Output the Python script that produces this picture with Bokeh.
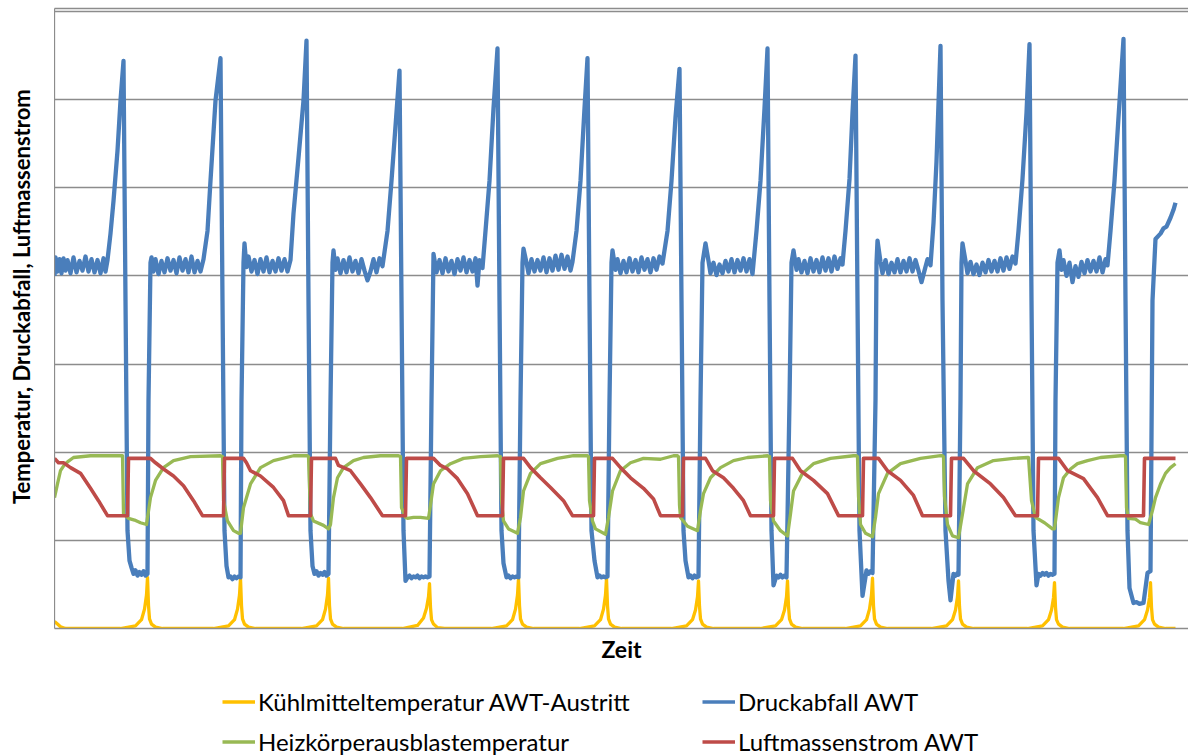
from math import pi
from bokeh.plotting import figure
from bokeh.models import Range1d, Legend, LegendItem, Label, FixedTicker, LinearAxis
from bokeh.layouts import column, row
from bokeh.embed import file_html
from bokeh.resources import INLINE

# ---------------- data (time in arbitrary units, values in chart units) ----------------
druck_t = (
    [0, 1, 3, 5, 7, 9, 11, 13, 16, 19, 22, 25, 28, 31, 34, 37, 40, 43, 46, 49, 51, 53, 56, 59, 63, 66, 69,
     71, 73, 75, 77, 79, 81, 83, 85, 87, 89, 91, 93, 94, 96]
    + [97, 99, 101, 104, 107, 110, 113, 116, 119, 122, 125, 128, 131, 134, 137, 140, 143, 146, 149, 153, 156, 161, 166,
       168, 170, 172, 174, 176, 178, 180, 182, 184, 186, 187, 189, 190]
    + [192, 194, 197, 200, 203, 206, 209, 212, 215, 218, 221, 224, 227, 230, 233, 236, 239, 244, 249, 252,
       254, 256, 258, 260, 262, 264, 266, 268, 270, 272, 274, 276, 278, 279]
    + [281, 283, 286, 289, 292, 295, 298, 301, 304, 307, 310, 313, 316, 319, 322, 325, 328, 333, 337, 341, 345,
       347, 349, 351, 353, 355, 357, 359, 361, 363, 365, 367, 369, 371, 373, 375, 377, 379]
    + [382, 385, 388, 391, 394, 397, 400, 403, 406, 409, 412, 415, 418, 421, 423, 425, 428, 431, 435, 439, 443,
       445, 447, 449, 452, 454, 456, 458, 460, 462, 464, 466, 468, 469]
    + [472, 474, 477, 480, 483, 486, 489, 492, 495, 498, 501, 504, 507, 510, 513, 516, 518, 522, 526, 530, 533,
       535, 537, 540, 543, 545, 547, 549, 551, 553, 555, 557, 558]
    + [561, 563, 566, 569, 572, 575, 578, 581, 584, 587, 590, 593, 596, 599, 602, 605, 608, 613, 617, 621, 625,
       627, 629, 631, 634, 636, 638, 640, 642, 644, 646, 648, 651]
    + [654, 656, 659, 662, 665, 668, 671, 674, 677, 680, 683, 686, 689, 692, 695, 698, 702, 706, 710, 713,
       715, 717, 719, 722, 724, 726, 728, 730, 732, 735, 737, 739]
    + [742, 744, 747, 750, 753, 756, 759, 762, 765, 768, 771, 774, 777, 780, 783, 786, 788, 791, 795, 798, 801,
       803, 805, 808, 812, 814, 816, 818, 821, 822, 823]
    + [826, 828, 831, 834, 837, 840, 843, 846, 849, 852, 855, 858, 861, 864, 867, 870, 873, 876, 879, 882, 886,
       888, 891, 894, 896, 899, 901, 903, 904, 906, 907, 908]
    + [911, 913, 916, 919, 922, 925, 928, 931, 934, 937, 940, 943, 946, 949, 952, 955, 958, 961, 964, 968, 972, 975,
       977, 979, 982, 984, 986, 988, 990, 992, 994, 996, 998, 1000, 1001, 1003, 1005]
    + [1007, 1009, 1012, 1015, 1018, 1021, 1024, 1027, 1030, 1033, 1036, 1039, 1042, 1045, 1048, 1051, 1053,
       1056, 1060, 1064, 1069, 1071, 1073, 1075, 1079, 1082, 1085, 1089, 1093, 1096,
       1098, 1101, 1106, 1109, 1112, 1116, 1119, 1121]
)
druck_v = (
    [40.0, 42.1, 40.5, 41.9, 40.3, 42.0, 40.6, 41.8, 40.3, 42.1, 40.4, 41.7, 40.6, 42.2, 40.5, 41.9, 40.4, 41.8, 40.3,
     42.0, 40.5, 41.8, 44.8, 48.5, 54.2, 59.9, 64.4, 37.2, 11.1, 7.7, 6.9, 6.2, 6.6, 6.0, 6.4, 6.1, 6.5, 6.0, 6.2,
     25.9, 41.5]
    + [42.1, 40.5, 41.9, 40.2, 41.7, 40.4, 42.0, 40.6, 41.8, 40.3, 42.1, 40.6, 41.9, 40.4, 42.2, 40.4, 41.7, 40.5,
       41.9, 45.1, 50.8, 59.9, 64.7, 37.2, 11.1, 7.1, 5.8, 5.9, 5.6, 5.9, 5.7, 5.9, 5.8, 25.9, 41.5, 43.7]
    + [41.0, 42.2, 40.5, 41.8, 40.2, 41.9, 40.5, 42.1, 40.4, 41.7, 40.5, 42.0, 40.6, 41.9, 40.5, 41.8, 47.1, 53.4,
       59.9, 66.7, 37.2, 11.1, 7.1, 6.2, 6.5, 6.0, 6.3, 6.1, 6.4, 6.0, 6.2, 25.9, 41.5, 42.9]
    + [40.7, 42.0, 40.3, 41.8, 40.4, 42.1, 40.5, 41.7, 40.3, 41.9, 40.6, 39.5, 40.5, 41.9, 40.4, 42.0, 41.1, 45.1,
       50.8, 57.0, 63.3, 37.2, 11.1, 5.4, 5.8, 6.0, 5.7, 5.9, 5.8, 6.0, 5.7, 5.9, 5.8, 5.9, 5.8, 5.9, 25.9, 42.5]
    + [40.4, 41.8, 40.3, 42.0, 40.5, 41.7, 40.2, 41.9, 40.6, 42.1, 40.4, 41.8, 40.5, 42.0, 38.9, 41.8, 40.9, 45.1,
       50.8, 59.0, 65.8, 37.2, 11.1, 7.4, 5.8, 6.0, 5.7, 5.9, 5.8, 5.9, 5.8, 25.9, 41.5, 43.1]
    + [41.5, 40.3, 41.9, 40.5, 41.8, 40.6, 42.1, 40.4, 42.0, 40.6, 42.3, 40.7, 42.4, 40.8, 42.2, 40.6, 41.6, 45.1,
       50.8, 59.0, 64.7, 37.2, 11.1, 7.7, 5.8, 6.0, 5.8, 5.9, 5.8, 5.9, 25.9, 41.5, 42.9]
    + [40.7, 41.9, 40.3, 41.7, 40.4, 42.0, 40.5, 41.8, 40.4, 42.1, 40.7, 41.9, 40.4, 42.0, 40.7, 42.2, 41.4, 45.1,
       50.8, 58.0, 63.5, 37.2, 11.1, 7.7, 5.8, 6.0, 5.7, 6.0, 5.8, 5.9, 25.9, 41.5, 43.7]
    + [41.7, 40.3, 41.5, 40.1, 41.3, 40.3, 41.7, 40.5, 41.9, 40.4, 41.8, 40.6, 42.0, 40.5, 41.9, 40.2, 45.1, 50.8,
       59.0, 65.8, 37.2, 11.1, 4.9, 6.0, 5.8, 6.1, 5.8, 6.0, 5.8, 25.9, 41.5, 42.9]
    + [40.7, 41.9, 40.4, 41.7, 40.3, 42.0, 40.5, 41.8, 40.4, 42.1, 40.6, 42.0, 40.5, 42.2, 40.8, 42.0, 41.3, 45.1,
       51.0, 58.5, 65.0, 37.2, 11.1, 3.7, 6.6, 6.2, 6.5, 6.3, 25.9, 41.5, 44.0]
    + [41.6, 40.3, 41.8, 40.2, 41.5, 40.4, 41.9, 40.4, 41.7, 40.5, 42.0, 40.5, 41.8, 40.6, 39.3, 40.6, 41.9, 41.2,
       46.0, 53.0, 66.1, 37.2, 11.1, 5.4, 3.2, 6.2, 6.0, 6.3, 6.1, 25.9, 41.5, 43.7]
    + [41.7, 40.3, 41.6, 40.2, 41.3, 40.1, 41.5, 40.4, 41.8, 40.5, 41.7, 40.5, 42.0, 40.6, 42.1, 40.8, 42.2, 41.4,
       45.1, 51.0, 58.5, 66.3, 37.2, 11.1, 4.9, 6.2, 6.0, 6.3, 6.1, 6.3, 6.0, 6.2, 6.1, 6.2, 25.9, 41.5, 42.9]
    + [40.7, 41.8, 40.0, 41.5, 39.3, 41.1, 39.9, 41.6, 40.3, 41.8, 40.5, 41.7, 40.5, 42.1, 40.4, 41.9, 41.2,
       45.1, 50.8, 58.0, 66.9, 37.2, 11.1, 4.6, 2.9, 3.0, 2.8, 2.9, 6.3, 6.5,
       37.2, 44.2, 44.8, 45.4, 45.6, 46.6, 47.5, 48.3]
)

kuehl_t = (
    [0, 3, 6, 11]
    + [66, 81, 87, 90, 92, 93, 94, 95, 97, 101, 108]
    + [159, 174, 180, 183, 185, 186, 187, 188, 190, 194, 201]
    + [247, 262, 268, 271, 273, 274, 275, 276, 278, 282, 289]
    + [348, 363, 369, 372, 374, 375, 376, 377, 379, 383, 390]
    + [437, 452, 458, 461, 463, 464, 465, 466, 468, 472, 479]
    + [525, 540, 546, 549, 551, 552, 553, 554, 556, 560, 567]
    + [617, 632, 638, 641, 643, 644, 645, 646, 648, 652, 659]
    + [706, 721, 727, 730, 732, 733, 734, 735, 737, 741, 748]
    + [791, 806, 812, 815, 817, 818, 819, 820, 822, 826, 833]
    + [877, 892, 898, 901, 903, 904, 905, 906, 908, 912, 919]
    + [973, 988, 994, 997, 999, 1000, 1001, 1002, 1004, 1008, 1015]
    + [1069, 1084, 1090, 1093, 1095, 1096, 1097, 1098, 1100, 1104, 1111]
    + [1121]
)
kuehl_v = (
    [0.8, 0.5, 0.2, 0.0]
    + [0.0, 0.3, 1.0, 2.2, 3.8, 5.8, 2.6, 1.1, 0.5, 0.15, 0.0]
    + [0.0, 0.3, 1.0, 2.2, 3.8, 5.7, 2.6, 1.1, 0.5, 0.15, 0.0]
    + [0.0, 0.3, 1.0, 2.2, 3.8, 5.7, 2.6, 1.1, 0.5, 0.15, 0.0]
    + [0.0, 0.35, 1.2, 2.3, 3.6, 5.1, 2.4, 1.0, 0.5, 0.1, 0.0]
    + [0.0, 0.3, 1.0, 2.2, 3.8, 5.7, 2.6, 1.1, 0.5, 0.15, 0.0]
    + [0.0, 0.3, 1.0, 2.2, 3.8, 5.7, 2.6, 1.1, 0.5, 0.15, 0.0]
    + [0.0, 0.3, 1.0, 2.1, 3.6, 5.4, 2.5, 1.1, 0.5, 0.15, 0.0]
    + [0.0, 0.3, 1.0, 2.1, 3.6, 5.4, 2.5, 1.1, 0.5, 0.15, 0.0]
    + [0.0, 0.3, 1.0, 2.2, 3.8, 5.7, 2.6, 1.1, 0.5, 0.15, 0.0]
    + [0.0, 0.3, 1.0, 2.1, 3.6, 5.4, 2.5, 1.1, 0.5, 0.15, 0.0]
    + [0.0, 0.3, 1.0, 2.1, 3.5, 5.2, 2.4, 1.0, 0.5, 0.15, 0.0]
    + [0.0, 0.3, 1.0, 2.1, 3.5, 5.2, 2.4, 1.0, 0.5, 0.15, 0.0]
    + [0.0]
)

heiz_t = (
    [0, 3, 6, 10, 13, 19, 36, 68]
    + [69, 74, 80, 86, 92, 96, 101, 109, 119, 136, 166]
    + [168, 169, 173, 179, 184, 186, 189, 196, 206, 219, 239, 253]
    + [254, 256, 259, 269, 274, 276, 279, 283, 289, 299, 309, 326, 344]
    + [346, 347, 351, 353, 359, 366, 374, 376, 379, 386, 396, 409, 426, 443]
    + [446, 447, 449, 454, 463, 466, 469, 476, 486, 503, 519, 533]
    + [534, 535, 538, 541, 551, 554, 558, 566, 576, 589, 606, 619, 623]
    + [624, 625, 626, 633, 643, 646, 649, 656, 666, 679, 693, 713]
    + [715, 716, 719, 726, 733, 736, 739, 748, 759, 776, 799, 802]
    + [803, 804, 806, 811, 818, 821, 824, 833, 846, 866, 886, 888]
    + [889, 890, 893, 898, 904, 908, 913, 923, 939, 959, 973]
    + [974, 977, 981, 990, 998, 1000, 1004, 1009, 1016, 1023, 1033, 1046, 1066, 1070]
    + [1071, 1072, 1074, 1081, 1086, 1094, 1098, 1101, 1106, 1111, 1116, 1121]
)
heiz_v = (
    [14.85, 16.4, 17.9, 18.6, 18.9, 19.4, 19.6, 19.6]
    + [13.0, 12.5, 12.3, 12.0, 11.8, 14.85, 16.8, 18.25, 19.05, 19.5, 19.6]
    + [19.5, 14.5, 12.2, 11.1, 10.8, 10.8, 13.7, 16.4, 18.25, 19.05, 19.6, 19.6]
    + [19.5, 13.0, 12.2, 11.7, 11.3, 11.8, 14.85, 17.1, 18.25, 19.05, 19.4, 19.6, 19.6]
    + [19.5, 13.7, 12.6, 12.5, 12.6, 12.6, 12.5, 14.0, 16.4, 17.9, 18.7, 19.3, 19.5, 19.6]
    + [19.5, 14.5, 12.2, 11.3, 10.8, 12.6, 15.6, 17.6, 18.7, 19.3, 19.6, 19.6]
    + [19.5, 14.5, 12.2, 11.3, 10.7, 12.6, 15.6, 17.9, 18.8, 19.3, 19.2, 19.6, 19.6]
    + [19.5, 14.0, 12.6, 11.6, 11.1, 13.4, 15.3, 17.1, 18.25, 19.05, 19.4, 19.6]
    + [19.5, 14.5, 12.2, 11.1, 10.5, 13.0, 15.6, 17.6, 18.7, 19.3, 19.6, 19.6]
    + [19.5, 15.0, 11.8, 10.8, 10.4, 12.6, 15.3, 17.6, 18.7, 19.3, 19.6, 19.6]
    + [19.5, 15.0, 11.8, 10.5, 10.3, 13.0, 16.4, 18.25, 19.05, 19.3, 19.4]
    + [19.4, 14.5, 12.6, 12.0, 11.3, 11.3, 14.85, 17.1, 18.1, 18.7, 19.05, 19.4, 19.6, 19.6]
    + [19.5, 13.7, 12.5, 12.4, 12.0, 11.8, 13.4, 14.85, 16.4, 17.6, 18.25, 18.7]
)

luft_t = (
    [0, 4, 9, 16, 26, 36, 44, 53, 73]
    + [74, 96, 101, 109, 119, 129, 139, 148, 169]
    + [170, 189, 192, 196, 206, 219, 229, 234, 256]
    + [257, 281, 284, 296, 306, 316, 328, 351]
    + [352, 379, 386, 393, 403, 413, 423, 448]
    + [449, 469, 476, 486, 496, 509, 518, 539]
    + [540, 558, 566, 576, 589, 599, 606, 628]
    + [629, 651, 658, 669, 679, 689, 696, 719]
    + [720, 738, 746, 759, 773, 784, 808]
    + [809, 824, 833, 846, 859, 868, 896]
    + [897, 909, 919, 936, 949, 961, 983]
    + [984, 1004, 1013, 1029, 1043, 1053, 1089]
    + [1090, 1121]
)
luft_v = (
    [19.3, 18.8, 18.8, 18.25, 17.6, 15.9, 14.5, 12.8, 12.8]
    + [19.3, 19.3, 18.8, 18.1, 17.3, 16.2, 14.5, 12.8, 12.8]
    + [19.3, 19.3, 18.8, 17.9, 17.3, 16.0, 14.5, 12.8, 12.8]
    + [19.3, 19.3, 18.5, 17.9, 16.4, 14.85, 12.8, 12.8]
    + [19.3, 19.3, 18.5, 18.1, 17.0, 15.3, 12.8, 12.8]
    + [19.3, 19.3, 18.25, 17.1, 16.0, 14.5, 12.8, 12.8]
    + [19.3, 19.3, 18.25, 17.1, 15.9, 14.7, 12.8, 12.8]
    + [19.3, 19.3, 17.9, 17.1, 15.9, 14.5, 12.8, 12.8]
    + [19.3, 19.3, 17.9, 16.8, 15.3, 12.8, 12.8]
    + [19.3, 19.3, 17.9, 16.8, 15.1, 12.8, 12.8]
    + [19.3, 19.3, 17.9, 16.4, 14.85, 12.8, 12.8]
    + [19.3, 19.3, 17.9, 17.0, 14.85, 12.8, 12.8]
    + [19.3, 19.3]
)

series_labels = [
    "Kühlmitteltemperatur AWT-Austritt",
    "Druckabfall AWT",
    "Heizkörperausblastemperatur",
    "Luftmassenstrom AWT",
]
series_colors = ["#FFC000", "#4A7EBB", "#98B954", "#BE4B48"]
series_widths = [3.3, 4.3, 3.3, 3.6]
y_ticks = [0, 10, 20, 30, 40, 50, 60, 70]
y_title = "Temperatur, Druckabfall, Luftmassenstrom"
x_title = "Zeit"

FONT = "Lato"
GRID = "#8C8C8C"
series = [(kuehl_t, kuehl_v), (druck_t, druck_v), (heiz_t, heiz_v), (luft_t, luft_v)]


def bare_axis(ax):
    ax.ticker = FixedTicker(ticks=[])
    ax.major_tick_line_color = None
    ax.minor_tick_line_color = None
    ax.major_tick_out = 0
    ax.major_tick_in = 0
    ax.major_label_standoff = 0
    ax.axis_line_color = GRID
    ax.axis_line_width = 1.3


# ---------------- main chart ----------------
p = figure(width=1134, height=680, output_backend="svg", toolbar_location=None,
           x_range=Range1d(0, 1134), y_range=Range1d(0, 70.34),
           min_border_left=0, min_border_right=0, min_border_top=8, min_border_bottom=52)
p.outline_line_color = None
p.xgrid.grid_line_color = None
p.ygrid.ticker = FixedTicker(ticks=y_ticks)
p.ygrid.grid_line_color = GRID
p.ygrid.grid_line_width = 1.3

bottom_axis = p.below[0]
left_axis = p.left[0]
top_axis = LinearAxis()
p.add_layout(top_axis, "above")
for ax in (bottom_axis, left_axis, top_axis):
    bare_axis(ax)

bottom_axis.axis_label = x_title
bottom_axis.axis_label_standoff = 6
bottom_axis.axis_label_text_font = FONT
bottom_axis.axis_label_text_font_style = "bold"
bottom_axis.axis_label_text_font_size = "23px"
bottom_axis.axis_label_text_color = "black"

for (tt, vv), c, w in zip(series, series_colors, series_widths):
    p.line(tt, vv, line_color=c, line_width=w, line_join="round")

# ---------------- y title strip (its frame is aligned with the chart frame) ----------------
left = figure(width=54, height=680, output_backend="svg", toolbar_location=None,
              x_range=Range1d(0, 54), y_range=Range1d(0, 680),
              x_axis_location=None, y_axis_location=None,
              min_border_left=0, min_border_right=0, min_border_top=0, min_border_bottom=0)
left.grid.visible = False
left.outline_line_color = None
left.add_layout(Label(x=21, y=364, text=y_title, angle=pi / 2, text_align="center",
                      text_baseline="middle", text_font=FONT, text_font_style="bold",
                      text_font_size="22px", text_color="black"))

# ---------------- legend strip (same series, ranges chosen so the lines stay out of view) ----------------
q = figure(width=1188, height=76, output_backend="svg", toolbar_location=None,
           x_range=Range1d(0, 1134), y_range=Range1d(-20, -10),
           x_axis_location=None, y_axis_location=None,
           min_border_left=0, min_border_right=0, min_border_top=0, min_border_bottom=0)
q.grid.visible = False
q.outline_line_color = None
legend_lines = [q.line(tt, vv, line_color=c, line_width=3.3) for (tt, vv), c in zip(series, series_colors)]

legend = Legend(items=[LegendItem(label=lab, renderers=[r]) for lab, r in zip(series_labels, legend_lines)],
                location=(222, 0), orientation="horizontal", ncols=2,
                glyph_width=33, glyph_height=29, label_height=29, label_width=433,
                label_standoff=3, spacing=11, padding=0, margin=0,
                border_line_alpha=0, background_fill_alpha=0,
                label_text_font=FONT, label_text_font_size="24px", label_text_color="black")
q.add_layout(legend)

layout = column(row(left, p, spacing=0), q, spacing=0)
open("out.html", "w").write(file_html(layout, INLINE))
